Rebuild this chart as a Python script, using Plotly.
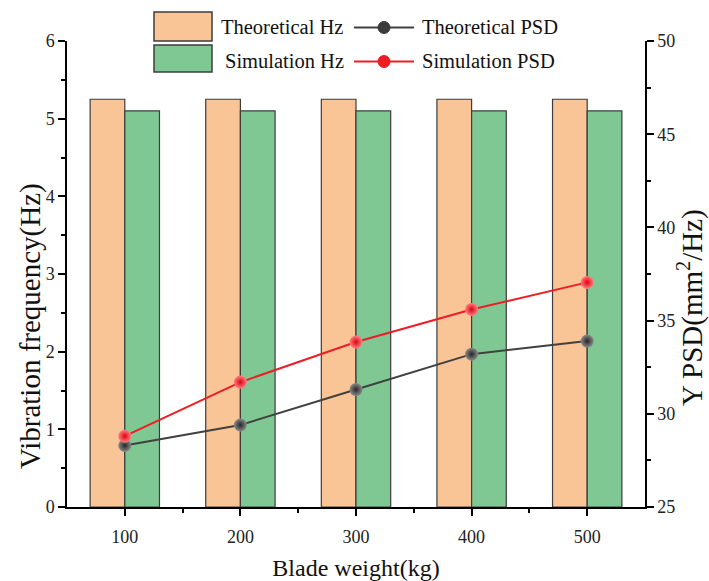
import plotly.graph_objects as go

# ---- data ----
weights = [100, 200, 300, 400, 500]
theoretical_hz = [5.25, 5.25, 5.25, 5.25, 5.25]
simulation_hz = [5.10, 5.10, 5.10, 5.10, 5.10]
theoretical_psd = [28.3, 29.4, 31.3, 33.2, 33.9]
simulation_psd = [28.8, 31.7, 33.85, 35.6, 37.05]

W, H = 709, 581
L, R, T, B = 67, 645, 41, 507  # plot area in pixels

FONT = "Liberation Serif"
ORANGE = "#F9C496"
GREEN = "#7FC893"
EDGE = "#3c3c3c"
RED = "#EE1C25"
DARK = "#404040"

fig = go.Figure()
fig.add_trace(go.Bar(x=weights, y=theoretical_hz, width=30, offset=-30,
                     marker=dict(color=ORANGE, line=dict(color=EDGE, width=1.2)),
                     name="Theoretical Hz", showlegend=False))
fig.add_trace(go.Bar(x=weights, y=simulation_hz, width=30, offset=0,
                     marker=dict(color=GREEN, line=dict(color=EDGE, width=1.2)),
                     name="Simulation Hz", showlegend=False))
fig.add_trace(go.Scatter(x=weights, y=theoretical_psd, yaxis="y2", mode="lines+markers",
                         line=dict(color=DARK, width=2),
                         marker=dict(size=13, color="#8a8a8a",
                                     gradient=dict(type="radial", color="#262626")),
                         name="Theoretical PSD", showlegend=False))
fig.add_trace(go.Scatter(x=weights, y=simulation_psd, yaxis="y2", mode="lines+markers",
                         line=dict(color=RED, width=2),
                         marker=dict(size=13, color="#ff8080",
                                     gradient=dict(type="radial", color="#e00010")),
                         name="Simulation PSD", showlegend=False))


def px(xp):
    return (xp - L) / (R - L)


def py(yp):
    return (B - yp) / (B - T)


shapes = []
annotations = []
# legend rectangles
shapes.append(dict(type="rect", xref="paper", yref="paper", x0=px(154), x1=px(212),
                   y0=py(41), y1=py(12), fillcolor=ORANGE, line=dict(color=EDGE, width=1.5),
                   layer="above"))
shapes.append(dict(type="rect", xref="paper", yref="paper", x0=px(154), x1=px(212),
                   y0=py(72), y1=py(45), fillcolor=GREEN, line=dict(color=EDGE, width=1.5),
                   layer="above"))
# legend line samples
for yy, col, mc in [(27.5, DARK, "#3a3a3a"), (61.5, RED, RED)]:
    shapes.append(dict(type="line", xref="paper", yref="paper", x0=px(354), x1=px(414),
                       y0=py(yy), y1=py(yy), line=dict(color=col, width=2), layer="above"))
    shapes.append(dict(type="circle", xref="paper", yref="paper", x0=px(378), x1=px(390),
                       y0=py(yy + 6), y1=py(yy - 6), fillcolor=mc, line=dict(color=mc, width=1),
                       layer="above"))
for x0, yy, txt in [(219, 27.5, "Theoretical Hz"), (223, 61, "Simulation Hz"),
                    (420, 27.5, "Theoretical PSD"), (420, 61, "Simulation PSD")]:
    annotations.append(dict(xref="paper", yref="paper", x=px(x0), y=py(yy), text=txt,
                            showarrow=False, xanchor="left", yanchor="middle",
                            font=dict(family=FONT, size=20.5, color="#111")))

# vertical axis titles
annotations.append(dict(xref="paper", yref="paper", x=px(30), y=py(326),
                        text="Vibration frequency(Hz)", textangle=-90, showarrow=False,
                        xanchor="center", yanchor="middle",
                        font=dict(family=FONT, size=29, color="#111")))
annotations.append(dict(xref="paper", yref="paper", x=px(691), y=py(308),
                        text="Y PSD(mm<sup>2</sup>/Hz)", textangle=-90, showarrow=False,
                        xanchor="center", yanchor="middle",
                        font=dict(family=FONT, size=29, color="#111")))

axis_common = dict(showline=True, linecolor="black", linewidth=1.5, ticks="outside",
                   ticklen=7, tickwidth=1.5, tickcolor="black", showgrid=False, zeroline=False,
                   automargin=False,
                   tickfont=dict(family=FONT, size=18, color="#222"))

fig.update_layout(
    width=W, height=H,
    margin=dict(l=L, r=W - R, t=T, b=H - B),
    plot_bgcolor="white", paper_bgcolor="white",
    barmode="overlay",
    xaxis=dict(range=[50, 550], tickvals=weights, ticktext=[str(w) for w in weights],
               ticklabelstandoff=6,
               minor=dict(tickvals=[150, 250, 350, 450], ticklen=4, tickwidth=1.5,
                          tickcolor="black", ticks="outside"),
               title=dict(text="Blade weight(kg)", font=dict(family=FONT, size=24, color="#111"),
                          standoff=14),
               **axis_common),
    yaxis=dict(range=[0, 6], dtick=1,
               minor=dict(dtick=0.5, ticklen=4, tickwidth=1.5, tickcolor="black", ticks="outside"),
               **axis_common),
    yaxis2=dict(range=[25, 50], dtick=5, overlaying="y", side="right", anchor="x",
                minor=dict(dtick=2.5, ticklen=4, tickwidth=1.5, tickcolor="black", ticks="outside"),
                **axis_common),
    shapes=shapes,
    annotations=annotations,
)

fig.write_html("out.html")
